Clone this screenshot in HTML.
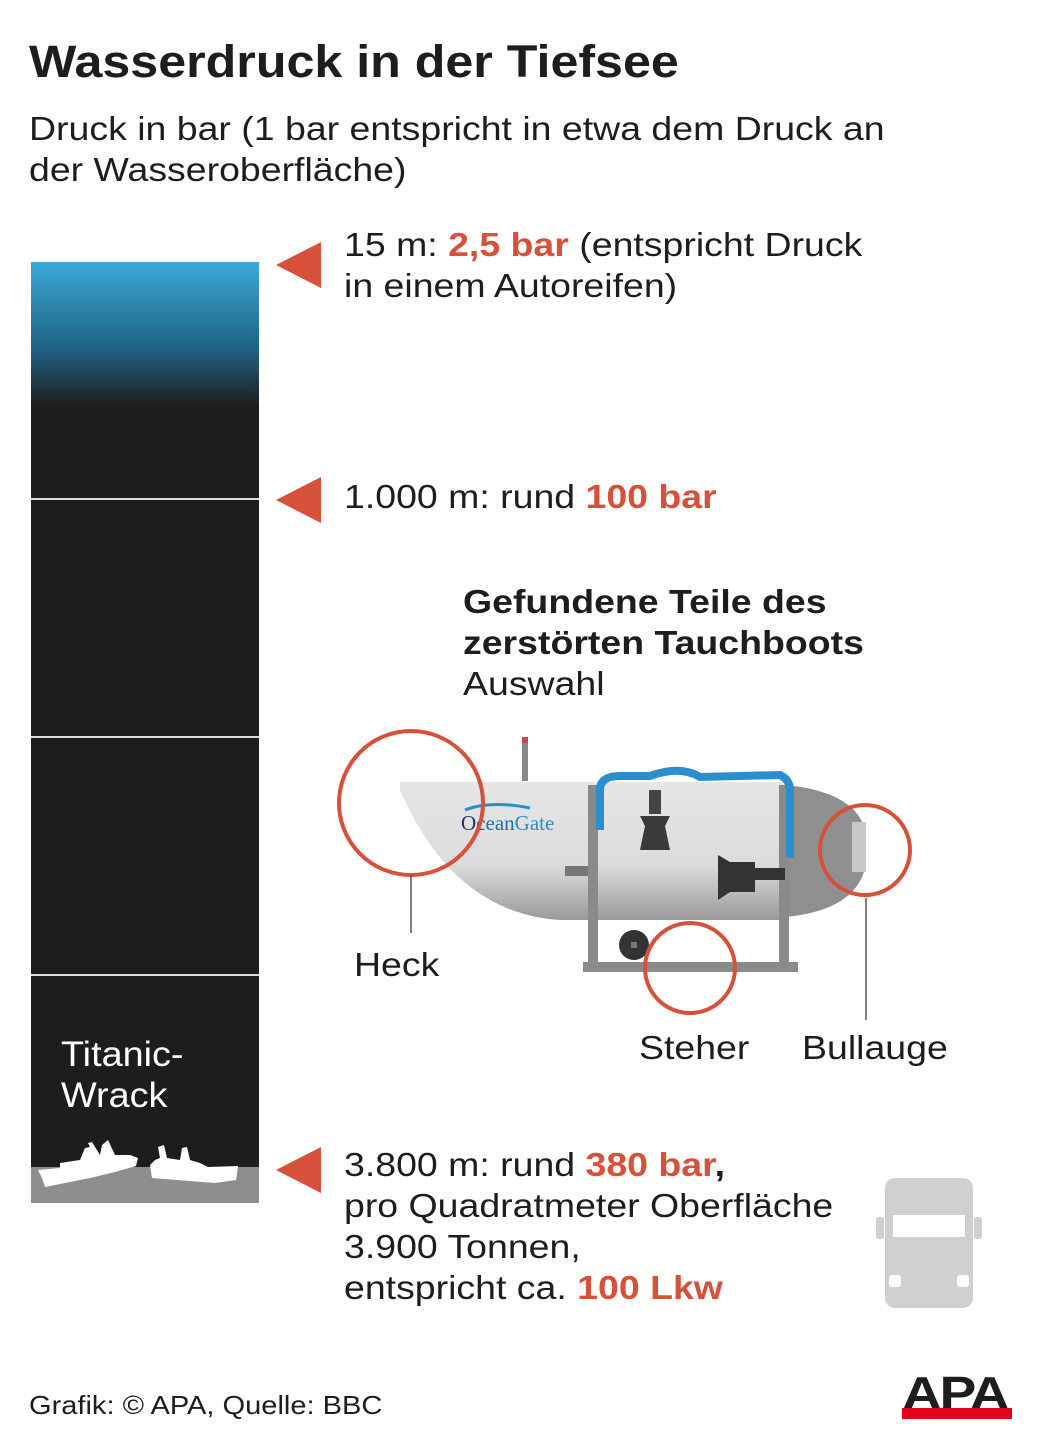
<!DOCTYPE html>
<html><head><meta charset="utf-8"><style>
body{margin:0;width:1041px;height:1442px;background:#fff;font-family:"Liberation Sans",sans-serif;position:relative;overflow:hidden;color:#1d1d1b}
.t{position:absolute;white-space:nowrap;transform-origin:0 0;transform:scaleX(1.135)}
.r{color:#d7503a;font-weight:bold}
</style></head><body>
<div class="t" style="left:29px;top:36px;font-size:45px;font-weight:bold;transform:scaleX(1.115)">Wasserdruck in der Tiefsee</div>
<div class="t" style="left:29px;top:108px;font-size:33px;line-height:41px">Druck in bar (1 bar entspricht in etwa dem Druck an<br>der Wasseroberfläche)</div>

<div style="position:absolute;left:31px;top:262px;width:228px;height:941px;background:linear-gradient(#3aaad9 0px,#1f5f7e 90px,#1d1d1b 145px,#1d1d1b 100%)"></div>
<div style="position:absolute;left:31px;top:498px;width:228px;height:2px;background:#ddd"></div>
<div style="position:absolute;left:31px;top:736px;width:228px;height:2px;background:#ddd"></div>
<div style="position:absolute;left:31px;top:974px;width:228px;height:2px;background:#ddd"></div>
<div style="position:absolute;left:31px;top:1167px;width:228px;height:36px;background:#8e8e8e"></div>
<svg style="position:absolute;left:0;top:0" width="1041" height="1442">
<g fill="#fff">
<polygon points="38,1170 60,1168 60,1163 80,1160 85,1148 90,1147 88,1143 92,1142 100,1155 102,1145 108,1140 115,1155 130,1155 138,1158 136,1166 115,1172 90,1178 45,1187 42,1178"/>
<polygon points="150,1165 155,1160 160,1158 158,1147 164,1145 167,1158 180,1160 182,1148 187,1147 190,1160 200,1163 208,1167 238,1166 236,1180 215,1183 152,1178"/>
</g>
<g fill="#d7503a">
<polygon points="276,265 321,242 321,288"/>
<polygon points="276,500 321,477 321,523"/>
<polygon points="276,1170 321,1147 321,1193"/>
</g>
<defs><linearGradient id="g" x1="0" y1="0" x2="0" y2="1"><stop offset="0" stop-color="#e6e6e6"/><stop offset="0.6" stop-color="#dcdcdc"/><stop offset="1" stop-color="#9a9a9a"/></linearGradient></defs>
<rect x="522" y="737" width="6" height="44" fill="#888"/><rect x="522" y="737" width="6" height="6" fill="#c44"/>
<path d="M400,782 L785,782 L785,920 L560,920 C480,915 430,860 400,790 Z" fill="url(#g)"/>
<path d="M785,785 C840,790 860,810 865,830 L865,868 C860,890 840,912 785,917 Z" fill="#8f8f8f"/>
<rect x="852" y="822" width="14" height="50" fill="#c8c8c8"/>
<rect x="565" y="866" width="25" height="10" fill="#777"/>
<rect x="588" y="785" width="10" height="185" fill="#8a8a8a"/><rect x="779" y="785" width="10" height="185" fill="#8a8a8a"/>
<rect x="583" y="962" width="215" height="10" fill="#8a8a8a"/>
<circle cx="634" cy="945" r="15" fill="#333"/><rect x="631" y="942" width="6" height="6" fill="#777"/>
<path d="M600,830 L600,790 Q600,776 620,776 L650,776 Q680,765 700,777 L780,775 Q790,780 790,790 L790,858" fill="none" stroke="#2a8fcc" stroke-width="8"/>
<rect x="649" y="790" width="12" height="24" fill="#444"/><path d="M640,816 L670,816 L665,826 L670,850 L640,850 L645,826Z" fill="#3a3a3a"/>
<path d="M718,855 L730,862 L755,862 L755,892 L730,892 L718,900Z" fill="#333"/><rect x="755" y="868" width="30" height="12" fill="#333"/>
<text x="461" y="830" font-family="Liberation Serif,serif" font-size="21" fill="#1a3a6a">Oc<tspan fill="#1a6fb6">ean</tspan><tspan fill="#2a8fcc">Gate</tspan></text>
<path d="M465,810 Q490,800 530,808" stroke="#2a8fcc" stroke-width="3" fill="none"/>
<g fill="none" stroke="#d7503a" stroke-width="4">
<circle cx="411" cy="803" r="72"/><circle cx="865" cy="850" r="45"/><circle cx="690" cy="968" r="45"/>
</g>
<line x1="411" y1="875" x2="411" y2="933" stroke="#555" stroke-width="1.5"/>
<line x1="866" y1="898" x2="866" y2="1020" stroke="#555" stroke-width="1.5"/>
<g fill="#d0d0d0">
<rect x="885" y="1178" width="88" height="130" rx="10"/>
<rect x="876" y="1217" width="8" height="22" rx="3"/><rect x="974" y="1217" width="8" height="22" rx="3"/>
</g>
<rect x="893" y="1215" width="72" height="22" fill="#fff"/>
<rect x="889" y="1275" width="12" height="12" rx="3" fill="#fff"/><rect x="957" y="1275" width="12" height="12" rx="3" fill="#fff"/>
</svg>
<div class="t" style="left:344px;top:224px;font-size:33px;line-height:41px">15 m: <span class="r">2,5 bar</span> (entspricht Druck<br>in einem Autoreifen)</div>
<div class="t" style="left:344px;top:478px;font-size:33px">1.000 m: rund <span class="r">100 bar</span></div>
<div class="t" style="left:463px;top:581px;font-size:33px;line-height:41px"><b>Gefundene Teile des<br>zerstörten Tauchboots</b><br>Auswahl</div>
<div class="t" style="left:354px;top:946px;font-size:33px">Heck</div>
<div class="t" style="left:639px;top:1029px;font-size:33px">Steher</div>
<div class="t" style="left:802px;top:1029px;font-size:33px">Bullauge</div>
<div class="t" style="left:61px;top:1034px;font-size:35px;line-height:41px;color:#fff;transform:scaleX(1.08)">Titanic-<br>Wrack</div>
<div class="t" style="left:344px;top:1144px;font-size:33px;line-height:41px">3.800 m: rund <span class="r">380 bar</span><b>,</b><br>pro Quadratmeter Oberfläche<br>3.900 Tonnen,<br>entspricht ca. <span class="r">100 Lkw</span></div>
<div class="t" style="left:29px;top:1390px;font-size:26px;transform:scaleX(1.117)">Grafik: © APA, Quelle: BBC</div>
<div class="t" style="left:902px;top:1366px;font-size:46px;font-weight:900;letter-spacing:-2px;color:#1d1d1b;transform:scaleX(1.2)">APA</div>
<div style="position:absolute;left:902px;top:1408px;width:110px;height:11px;background:#e2001a"></div>
</body></html>
